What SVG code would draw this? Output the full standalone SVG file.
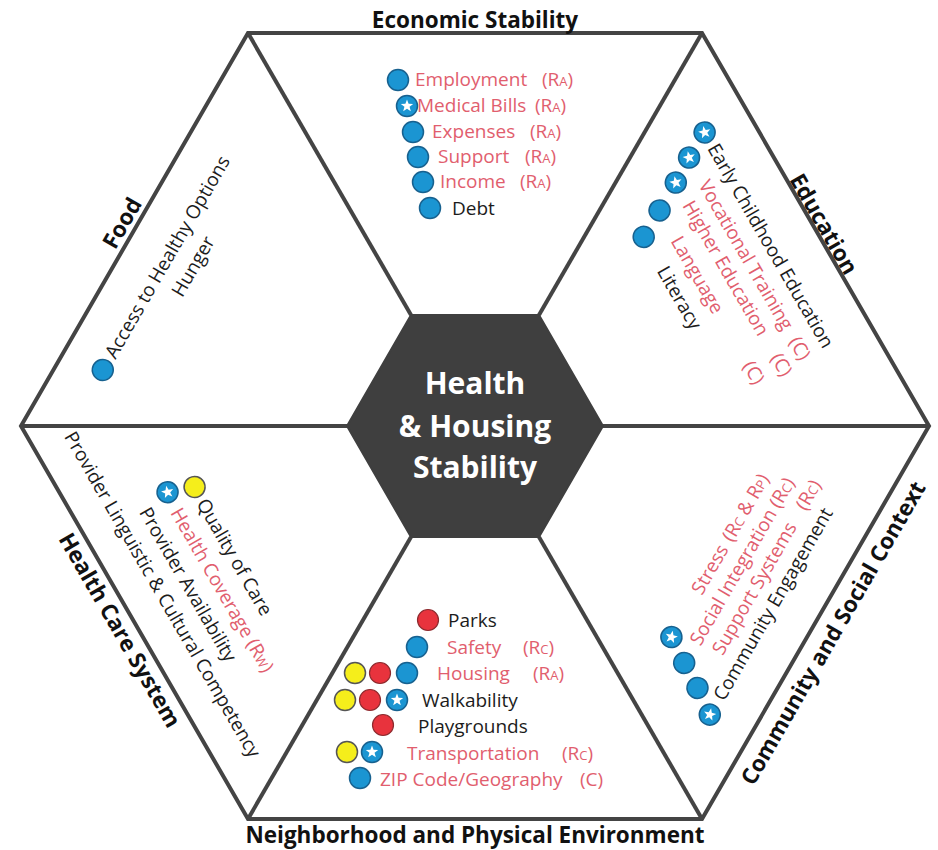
<svg xmlns="http://www.w3.org/2000/svg" xmlns:xlink="http://www.w3.org/1999/xlink" width="938" height="850" viewBox="0 0 938 850">
  <style>
    text { font-family: "Open Sans", "Liberation Sans", sans-serif; }
    .title { font-size: 22.5px; font-weight: bold; fill: #111; }
    .core { font-size: 30px; font-weight: bold; fill: #fff; text-anchor: middle; }
    .it { font-size: 19px; fill: #1c1c1c; }
    .rd { fill: #e15e6e; }
    .sm { font-size: 13px; }
    .frame { fill: none; stroke: #444; stroke-width: 4; stroke-linejoin: miter; }
    .spoke { stroke: #444; stroke-width: 4; }
  </style>
  <defs>
    <g id="blue"><circle r="10.5" fill="#1b95d2" stroke="#17618f" stroke-width="1.5"/></g>
    <g id="bstar"><circle r="10.5" fill="#1b95d2" stroke="#17618f" stroke-width="1.5"/><polygon fill="#fff" points="0,-6.5 1.59,-2.18 6.18,-2.01 2.57,0.83 3.82,5.26 0,2.7 -3.82,5.26 -2.57,0.83 -6.18,-2.01 -1.59,-2.18"/></g>
    <g id="red"><circle r="10.5" fill="#e8333d" stroke="#8d2a2e" stroke-width="1.2"/></g>
    <g id="yel"><circle r="10.5" fill="#f5ee1b" stroke="#555" stroke-width="1.5"/></g>
  </defs>

  <rect width="938" height="850" fill="#fff"/>

  <!-- frame and spokes -->
  <g id="connectors">
    <polygon class="frame" points="21,426 248,33 702,33 929,426 702,819 248,819"/>
    <line class="spoke" x1="21" y1="426" x2="347" y2="426"/>
    <line class="spoke" x1="929" y1="426" x2="603" y2="426"/>
    <line class="spoke" x1="248" y1="33" x2="411" y2="315"/>
    <line class="spoke" x1="702" y1="33" x2="539" y2="315"/>
    <line class="spoke" x1="248" y1="819" x2="411" y2="537"/>
    <line class="spoke" x1="702" y1="819" x2="539" y2="537"/>
  </g>

  <!-- centre -->
  <g id="core">
    <polygon points="347,426 411,315 539,315 603,426 539,537 411,537" fill="#3f3f3f" stroke="#3f3f3f" stroke-width="2"/>
    <text class="core" x="475" y="394">Health</text>
    <text class="core" x="475" y="437">&amp; Housing</text>
    <text class="core" x="475" y="478">Stability</text>
  </g>

  <!-- Economic Stability -->
  <g id="economic">
    <text class="title" x="475" y="28" text-anchor="middle">Economic Stability</text>
    <use href="#blue" x="398" y="80"/>
    <use href="#bstar" x="407" y="106"/>
    <use href="#blue" x="413" y="132"/>
    <use href="#blue" x="418" y="157"/>
    <use href="#blue" x="423" y="182"/>
    <use href="#blue" x="430" y="208"/>
    <text class="it rd" x="415" y="86">Employment<tspan x="542">(R<tspan class="sm">A</tspan>)</tspan></text>
    <text class="it rd" x="417" y="112">Medical Bills<tspan x="535">(R<tspan class="sm">A</tspan>)</tspan></text>
    <text class="it rd" x="432" y="138">Expenses<tspan x="530">(R<tspan class="sm">A</tspan>)</tspan></text>
    <text class="it rd" x="438" y="163">Support<tspan x="525">(R<tspan class="sm">A</tspan>)</tspan></text>
    <text class="it rd" x="440" y="188">Income<tspan x="520">(R<tspan class="sm">A</tspan>)</tspan></text>
    <text class="it" x="452" y="215">Debt</text>
  </g>

  <!-- Education -->
  <g id="education">
    <text class="title" transform="translate(824,224) rotate(60)" x="0" y="8" text-anchor="middle">Education</text>
    <g transform="rotate(60)">
      <use href="#bstar" x="467" y="-544"/>
      <use href="#bstar" x="481" y="-518"/>
      <use href="#bstar" x="496" y="-494"/>
      <use href="#blue" x="512" y="-466"/>
      <use href="#blue" x="527" y="-439"/>
      <text class="it" x="482" y="-538" fill="#2a2a2a">Early Childhood Education</text>
      <text class="it rd" x="509" y="-512">Vocational Training<tspan x="690">(C)</tspan></text>
      <text class="it rd" x="519" y="-488">Higher Education<tspan x="695">(C)</tspan></text>
      <text class="it rd" x="544" y="-460">Language<tspan x="688">(C)</tspan></text>
      <text class="it" x="563" y="-433">Literacy</text>
    </g>
  </g>

  <!-- Food -->
  <g id="food">
    <text class="title" transform="translate(122,223) rotate(-60)" x="0" y="8" text-anchor="middle">Food</text>
    <g transform="rotate(-60)">
      <use href="#blue" x="-269" y="274"/>
      <text class="it" x="-254" y="280" fill="#2a2a2a">Access to Healthy Options</text>
      <text class="it" x="-134" y="307" fill="#2a2a2a" text-anchor="middle">Hunger</text>
    </g>
  </g>

  <!-- Health Care System -->
  <g id="health-care">
    <text class="title" transform="translate(120,630) rotate(60)" x="0" y="8" text-anchor="middle">Health Care System</text>
    <g transform="rotate(60)">
      <use href="#yel" x="519" y="75"/>
      <use href="#bstar" x="510" y="101"/>
      <text class="it" x="534" y="82">Quality of Care</text>
      <text class="it rd" x="529" y="109">Health Coverage (R<tspan class="sm">W</tspan>)</text>
      <text class="it" x="513" y="136">Provider Availability</text>
      <text class="it" x="410" y="163">Provider Linguistic &amp; Cultural Competency</text>
    </g>
  </g>

  <!-- Neighborhood and Physical Environment -->
  <g id="neighborhood">
    <text class="title" x="475" y="843" text-anchor="middle">Neighborhood and Physical Environment</text>
    <use href="#red" x="428" y="620"/>
    <use href="#blue" x="417" y="647"/>
    <use href="#yel" x="355" y="673"/>
    <use href="#red" x="380" y="673"/>
    <use href="#blue" x="407" y="673"/>
    <use href="#yel" x="345" y="700"/>
    <use href="#red" x="370" y="700"/>
    <use href="#bstar" x="397" y="700"/>
    <use href="#red" x="383" y="725"/>
    <use href="#yel" x="347" y="752"/>
    <use href="#bstar" x="372" y="752"/>
    <use href="#blue" x="360" y="778"/>
    <text class="it" x="448" y="627">Parks</text>
    <text class="it rd" x="447" y="654">Safety<tspan x="523">(R<tspan class="sm">C</tspan>)</tspan></text>
    <text class="it rd" x="437" y="680">Housing<tspan x="533">(R<tspan class="sm">A</tspan>)</tspan></text>
    <text class="it" x="422" y="707">Walkability</text>
    <text class="it" x="418" y="733">Playgrounds</text>
    <text class="it rd" x="407" y="760">Transportation<tspan x="562">(R<tspan class="sm">C</tspan>)</tspan></text>
    <text class="it rd" x="380" y="786">ZIP Code/Geography<tspan x="580">(C)</tspan></text>
  </g>

  <!-- Community and Social Context -->
  <g id="community">
    <text class="title" transform="translate(833,633) rotate(-60)" x="0" y="8" text-anchor="middle">Community and Social Context</text>
    <g transform="rotate(-60)">
      <use href="#bstar" x="-216" y="900"/>
      <use href="#blue" x="-232" y="924"/>
      <use href="#blue" x="-247" y="948"/>
      <use href="#bstar" x="-264" y="972"/>
      <text class="it rd" x="-165" y="906">Stress<tspan x="-104">(R<tspan class="sm">C</tspan> &amp; R<tspan class="sm">P</tspan>)</tspan></text>
      <text class="it rd" x="-210" y="930">Social Integration (R<tspan class="sm">C</tspan>)</text>
      <text class="it rd" x="-207" y="954">Support Systems<tspan x="-40">(R<tspan class="sm">C</tspan>)</tspan></text>
      <text class="it" x="-246" y="978" fill="#2a2a2a">Community Engagement</text>
    </g>
  </g>
</svg>
